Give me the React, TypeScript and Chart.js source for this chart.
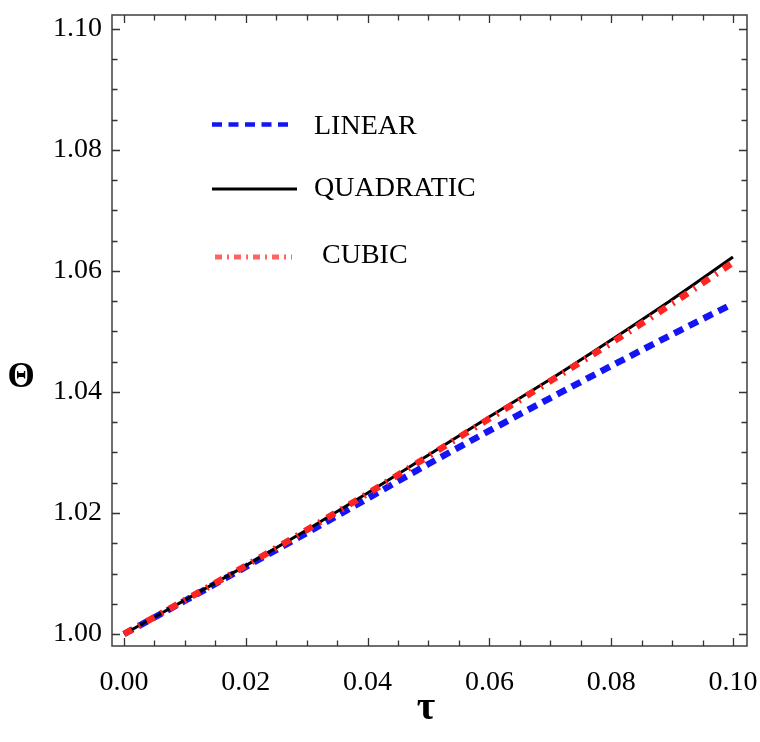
import { useEffect, useRef } from 'react';
import { Chart, registerables } from 'chart.js';

Chart.register(...registerables);

// ---- data ----
const TAU = [0, 0.01, 0.02, 0.03, 0.04, 0.05, 0.06, 0.07, 0.08, 0.09, 0.10];
const LINEAR = [1.0000, 1.0055, 1.0111, 1.0167, 1.0224, 1.0281, 1.0336, 1.0390, 1.0443, 1.0495, 1.0546];
const QUADRATIC = [1.0000, 1.0056, 1.0113, 1.0172, 1.0233, 1.0296, 1.0359, 1.0421, 1.0486, 1.0553, 1.0623];
const CUBIC = [1.0000, 1.0056, 1.0113, 1.0172, 1.0232, 1.0294, 1.0356, 1.0418, 1.0481, 1.0546, 1.0614];
const SERIES_LABELS = ['LINEAR', 'QUADRATIC', 'CUBIC'];
const X_TICKS = [0, 0.02, 0.04, 0.06, 0.08, 0.10];
const Y_TICKS = [1.00, 1.02, 1.04, 1.06, 1.08, 1.10];
const X_TITLE = 'τ';
const Y_TITLE = 'Θ';

const SERIF = '"Liberation Serif", "Times New Roman", serif';

const styles = [
  { color: '#1414f5', legendColor: '#1414f5', width: 6.5, legendWidth: 4.5, dash: [10, 6.5], order: 3 },
  { color: '#000000', legendColor: '#000000', width: 3, legendWidth: 3, dash: [], order: 2 },
  { color: '#ff2424', legendColor: '#ff6464', width: 6.5, legendWidth: 5, dash: [9, 7.5, 2, 7.5], order: 1 },
];

const legendPos = [
  { x1: 212, x2: 291, y: 124.5, tx: 314, ty: 133.8 },
  { x1: 212, x2: 297, y: 189, tx: 314, ty: 196.3 },
  { x1: 215, x2: 292, y: 257, tx: 322, ty: 262.8 },
];

const framePlugin = {
  id: 'frameTicks',
  afterDraw(chart: any) {
    const { ctx, chartArea, scales } = chart;
    const { left, right, top, bottom } = chartArea;
    const xs = scales.x;
    const ys = scales.y;
    ctx.save();
    // frame
    ctx.strokeStyle = '#4a4a4a';
    ctx.lineWidth = 1.6;
    ctx.strokeRect(left, top, right - left, bottom - top);
    // ticks (inward, all four sides)
    ctx.lineWidth = 1.3;
    ctx.strokeStyle = '#333';
    const xMin = X_TICKS[0];
    const xStep = (X_TICKS[1] - X_TICKS[0]) / 4;
    for (let i = 0; i <= (X_TICKS.length - 1) * 4; i++) {
      const v = xMin + i * xStep;
      const px = Math.round(xs.getPixelForValue(v)) + 0.5;
      const len = i % 4 === 0 ? 8 : 5.5;
      ctx.beginPath();
      ctx.moveTo(px, bottom);
      ctx.lineTo(px, bottom - len);
      ctx.moveTo(px, top);
      ctx.lineTo(px, top + len);
      ctx.stroke();
    }
    const yMin = Y_TICKS[0];
    const yStep = (Y_TICKS[1] - Y_TICKS[0]) / 4;
    for (let i = 0; i <= (Y_TICKS.length - 1) * 4; i++) {
      const v = yMin + i * yStep;
      const py = Math.round(ys.getPixelForValue(v)) + 0.5;
      const len = i % 4 === 0 ? 8 : 5.5;
      ctx.beginPath();
      ctx.moveTo(left, py);
      ctx.lineTo(left + len, py);
      ctx.moveTo(right, py);
      ctx.lineTo(right - len, py);
      ctx.stroke();
    }
    // axis titles
    ctx.fillStyle = '#000';
    ctx.textAlign = 'center';
    ctx.textBaseline = 'middle';
    ctx.font = `bold 35px ${SERIF}`;
    ctx.fillText(Y_TITLE, 21, 378);
    ctx.font = `bold 40px ${SERIF}`;
    ctx.fillText(X_TITLE, 426, 709);

    // legend
    chart.data.datasets.forEach((ds: any, i: number) => {
      const st = styles[i];
      const p = legendPos[i];
      ctx.beginPath();
      ctx.setLineDash(i === 2 ? [7, 5, 2, 5] : st.dash);
      ctx.lineWidth = st.legendWidth;
      ctx.strokeStyle = st.legendColor;
      ctx.moveTo(p.x1, p.y);
      ctx.lineTo(p.x2, p.y);
      ctx.stroke();
      ctx.setLineDash([]);
      ctx.fillStyle = '#000';
      ctx.textAlign = 'left';
      ctx.textBaseline = 'alphabetic';
      ctx.font = `28px ${SERIF}`;
      ctx.fillText(ds.label, p.tx, p.ty);
    });
    ctx.restore();
  },
};

export default function App() {
  const ref = useRef<HTMLCanvasElement | null>(null);

  useEffect(() => {
    if (!ref.current) return;
    const series = [LINEAR, QUADRATIC, CUBIC];
    const chart = new Chart(ref.current, {
      type: 'line',
      data: {
        datasets: series.map((vals, i) => ({
          label: SERIES_LABELS[i],
          data: TAU.map((t, j) => ({ x: t, y: vals[j] })),
          borderColor: styles[i].color,
          borderWidth: styles[i].width,
          borderDash: styles[i].dash,
          borderCapStyle: 'butt',
          pointRadius: 0,
          fill: false,
          cubicInterpolationMode: 'monotone',
          order: styles[i].order,
        })),
      },
      options: {
        animation: false,
        responsive: false,
        devicePixelRatio: 1,
        layout: { padding: { left: 0, top: 15, right: 13, bottom: 0 } },
        plugins: { legend: { display: false }, tooltip: { enabled: false }, title: { display: false } },
        scales: {
          x: {
            type: 'linear',
            min: -0.00197,
            max: 0.1023,
            grid: { display: false, drawTicks: false },
            border: { display: false },
            afterBuildTicks: (s: any) => { s.ticks = X_TICKS.map((v) => ({ value: v })); },
            afterFit: (s: any) => { s.height = 96; s.paddingLeft = 0; s.paddingRight = 0; },
            ticks: {
              padding: 20,
              maxRotation: 0,
              autoSkip: false,
              color: '#000',
              font: { family: SERIF, size: 28 },
              callback: (v: any) => Number(v).toFixed(2),
            },
          },
          y: {
            type: 'linear',
            min: 0.99802,
            max: 1.1023,
            grid: { display: false, drawTicks: false },
            border: { display: false },
            afterBuildTicks: (s: any) => { s.ticks = Y_TICKS.map((v) => ({ value: v })); },
            afterFit: (s: any) => { s.width = 112; s.paddingTop = 0; s.paddingBottom = 0; },
            ticks: {
              padding: 10,
              autoSkip: false,
              color: '#000',
              font: { family: SERIF, size: 28 },
              callback: (v: any) => Number(v).toFixed(2),
            },
          },
        },
      },
      plugins: [framePlugin],
    } as any);
    return () => chart.destroy();
  }, []);

  return (
    <div style={{ position: 'absolute', left: 0, top: 0, width: 760, height: 742, background: '#fff' }}>
      <canvas ref={ref} width={760} height={742} style={{ display: 'block', width: 760, height: 742 }} />
    </div>
  );
}
